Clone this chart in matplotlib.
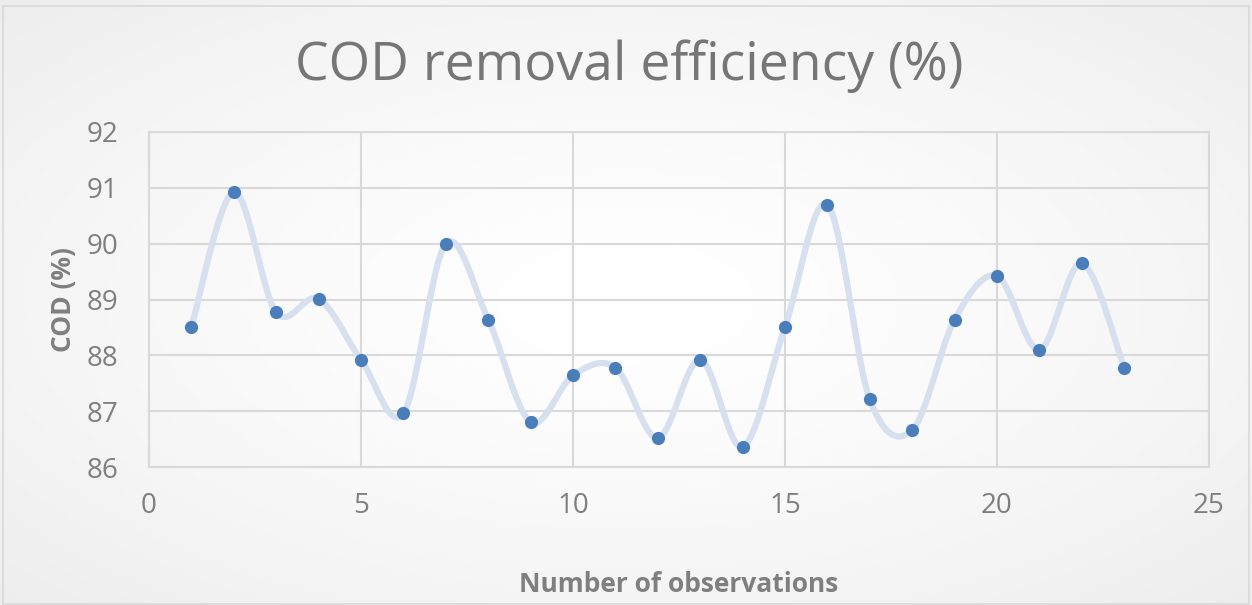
import numpy as np
import matplotlib
matplotlib.use("Agg")
import matplotlib.pyplot as plt
from matplotlib.patches import Rectangle

# ---- data ----
observations = list(range(1, 24))
cod_removal = [88.51, 90.92, 88.77, 89.01, 87.92, 86.96, 90.00, 88.64, 86.81, 87.64,
               87.78, 86.52, 87.92, 86.36, 88.51, 90.70, 87.21, 86.66, 88.64, 89.42,
               88.10, 89.65, 87.78]
x_ticks = [0, 5, 10, 15, 20, 25]
y_ticks = [86, 87, 88, 89, 90, 91, 92]

title = "COD removal efficiency (%)"
xlabel = "Number of observations"
ylabel = "COD (%)"

plt.rcParams['font.family'] = ['Open Sans', 'DejaVu Sans']

W, H, DPI = 1252, 605, 100
fig = plt.figure(figsize=(W / DPI, H / DPI), dpi=DPI)

# background radial gradient
bg = fig.add_axes([0, 0, 1, 1], zorder=-10)
yy, xx = np.mgrid[0:1:200j, 0:1:400j]
r = np.sqrt(((xx - 0.5) / 0.5) ** 2 + ((yy - 0.5) / 0.5) ** 2) / np.sqrt(2)
g = 1.0 - 0.07 * np.clip(r, 0, 1) ** 1.5
bg.imshow(np.dstack([g, g, g]), extent=[0, 1, 0, 1], aspect='auto', origin='lower')
bg.set_axis_off()
fig.patches.append(Rectangle((0.002, 0.002), 0.996, 0.988, transform=fig.transFigure,
                             fill=False, edgecolor='#d9d9d9', linewidth=1.2))

ax = fig.add_axes([149 / W, 1 - 467 / H, (1209 - 149) / W, (467 - 132) / H])
ax.set_facecolor('none')


def smooth(xs, ys, n=30):
    xs = np.asarray(xs, float)
    ys = np.asarray(ys, float)
    P = np.column_stack([xs, ys])
    Pp = np.vstack([P[0], P, P[-1]])
    out = []
    for i in range(len(P) - 1):
        p0, p1, p2, p3 = Pp[i], Pp[i + 1], Pp[i + 2], Pp[i + 3]
        c1 = p1 + (p2 - p0) / 6.0
        c2 = p2 - (p3 - p1) / 6.0
        t = np.linspace(0, 1, n)[:, None]
        seg = ((1 - t) ** 3) * p1 + 3 * ((1 - t) ** 2) * t * c1 + 3 * (1 - t) * t ** 2 * c2 + t ** 3 * p2
        out.append(seg if i == 0 else seg[1:])
    S = np.vstack(out)
    return S[:, 0], S[:, 1]


sx, sy = smooth(observations, cod_removal)
ax.plot(sx, sy, color='#d6e0ef', linewidth=4.5, solid_capstyle='round', zorder=2)
ax.plot(observations, cod_removal, linestyle='none', marker='o', markersize=9.5,
        color='#4a7ebb', markeredgewidth=0, zorder=3)

ax.set_xlim(0, 25)
ax.set_ylim(86, 92)
ax.set_xticks(x_ticks)
ax.set_yticks(y_ticks)
ax.grid(True, color='#d9d9d9', linewidth=1.5, zorder=0)
ax.set_axisbelow(True)
for s in ax.spines.values():
    s.set_color('#d9d9d9')
    s.set_linewidth(1.5)
ax.tick_params(length=0, labelsize=20, labelcolor='#7f7f7f')
ax.tick_params(axis='x', pad=18)
ax.tick_params(axis='y', pad=22)

ax.set_xlabel(xlabel, fontsize=19, fontweight='bold', color='#7f7f7f', va='center')
ax.set_ylabel(ylabel, fontsize=19, fontweight='bold', color='#7f7f7f', va='center')
ax.xaxis.set_label_coords(0.5, (467 - 585) / (467 - 132))
ax.yaxis.set_label_coords((63 - 149) / (1209 - 149), 0.5)

fig.text(629 / W, 1 - 66 / H, title, ha='center', va='center', fontsize=38.5,
         color='#767676')

fig.savefig('out.png', dpi=DPI)
